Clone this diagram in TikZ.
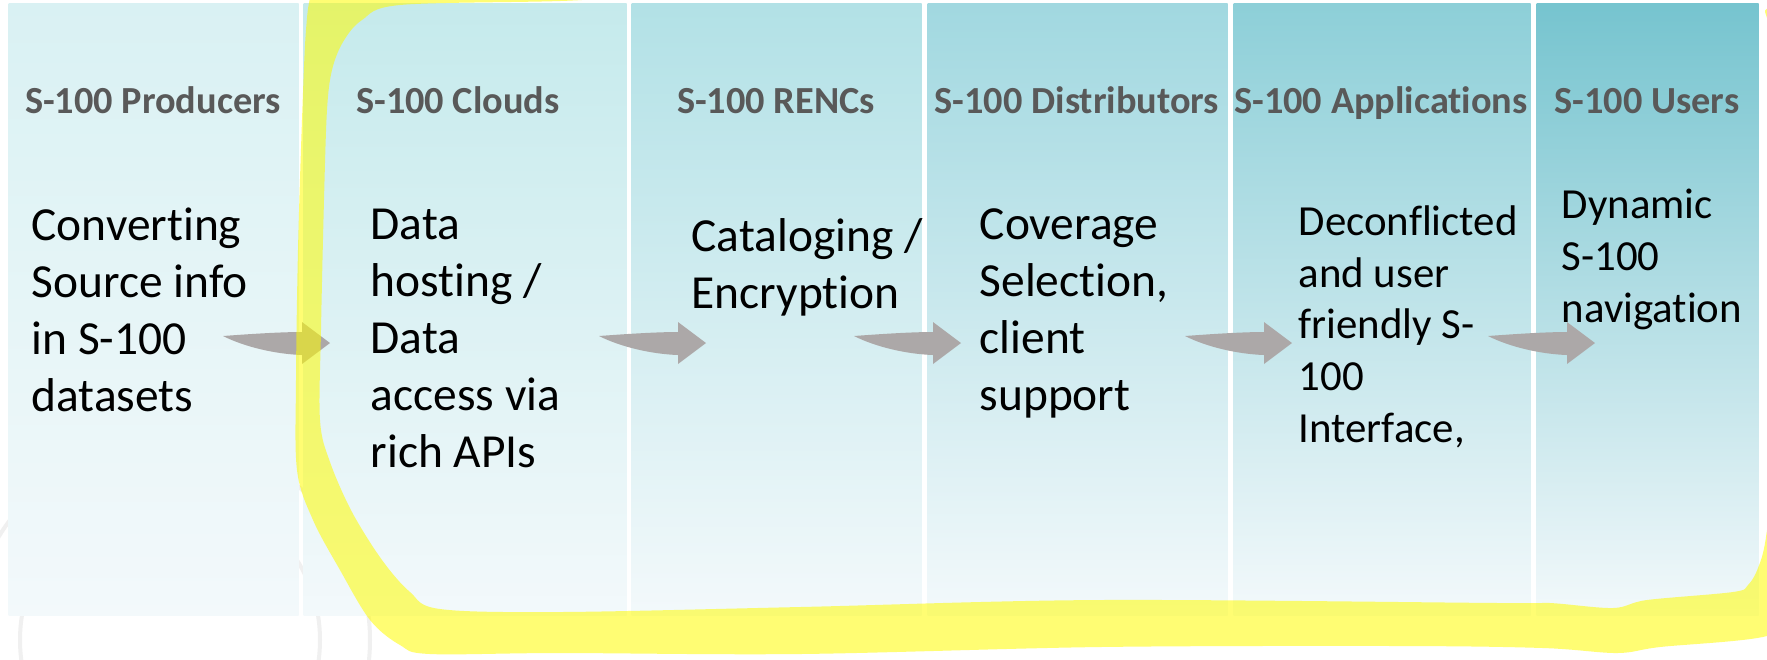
\documentclass[tikz,border=0pt]{standalone}
\usepackage{fontspec}
\setmainfont{Carlito}[Ligatures=NoCommon]
\definecolor{band1}{HTML}{D9F1F3}
\definecolor{band2}{HTML}{C5EAEC}
\definecolor{band3}{HTML}{B2E1E6}
\definecolor{band4}{HTML}{A1D8E0}
\definecolor{band5}{HTML}{8DCFD8}
\definecolor{band6}{HTML}{76C4CF}
\definecolor{bandlow}{HTML}{F3F9FB}
\definecolor{headgray}{HTML}{595959}
\definecolor{arrowgray}{HTML}{ACA8A8}
\definecolor{marker}{HTML}{FFFC00}
\definecolor{seal}{HTML}{F0F0F0}
\begin{document}
\begin{tikzpicture}[x=0.1mm,y=-0.1mm,
  col/.style={anchor=north west,inner sep=0,minimum height=61.2mm,bottom color=bandlow},
  head/.style={anchor=base,inner sep=0,text=headgray,font=\fontsize{10.9}{13}\selectfont\bfseries},
  body/.style={anchor=base west,align=left,inner sep=0,font=\fontsize{13.5}{16.2}\selectfont},
  small/.style={anchor=base west,align=left,inner sep=0,font=\fontsize{12.2}{14.7}\selectfont},
  flow/.style={fill=arrowgray},
  hilite/.style={fill=marker,fill opacity=0.55,even odd rule}]
\useasboundingbox (0,0) rectangle (1767,659);
\fill[white] (0,0) rectangle (1767,659);
\draw[seal,line width=0.4mm] (170,640) circle[radius=200];
\draw[seal,line width=0.4mm] (170,640) circle[radius=150];

\node[col,top color=band1,minimum width=29mm] (c1) at (8,3) {};
\node[col,top color=band2,minimum width=32.3mm] (c2) at (303,3) {};
\node[col,top color=band3,minimum width=29mm] (c3) at (631,3) {};
\node[col,top color=band4,minimum width=30mm] (c4) at (927,3) {};
\node[col,top color=band5,minimum width=29.7mm] (c5) at (1233,3) {};
\node[col,top color=band6,minimum width=22.2mm] (c6) at (1536,3) {};

\node[head] (h1) at (153,113) {S-100 Producers};
\node[head] (h2) at (458,113) {S-100 Clouds};
\node[head] (h3) at (776,113) {S-100 RENCs};
\node[head] (h4) at (1077,113) {S-100 Distributors};
\node[head] (h5) at (1381,113) {S-100 Applications};
\node[head] (h6) at (1647,113) {S-100 Users};

\coordinate (a1) at (330,343);
\coordinate (a2) at (706,343);
\coordinate (a3) at (961,343);
\coordinate (a4) at (1292,343);
\coordinate (a5) at (1595,343);
\foreach \i in {1,...,5}
  \fill[flow,shift={(a\i)}] (-107,-7) .. controls (-80,-9) and (-50,-11) .. (-28,-11)
    -- (-28,-21) -- (0,0) -- (-28,21) -- (-28,12)
    .. controls (-55,11) and (-85,4) .. (-107,-7) -- cycle;

\node[body] (t1) at (31,411) {Converting\\Source info\\in S-100\\datasets};
\node[body] (t2) at (370,467) {Data\\hosting /\\Data\\access via\\rich APIs};
\node[body] (t3) at (691,308) {Cataloging /\\Encryption};
\node[body] (t4) at (979,410) {Coverage\\Selection,\\client\\support};
\node[small] (t5) at (1298,442) {Deconflicted\\and user\\friendly S-\\100\\Interface,};
\node[small] (t6) at (1561,322) {Dynamic\\S-100\\navigation};

\fill[hilite] plot[smooth cycle,tension=0.55] coordinates {(330,-35) (312,-8) (306,30) (302,120) (298,250) (296,380) (297,470) (313,520) (340,570) (370,620) (400,645) (430,654) (560,653) (800,654) (1100,647) (1400,646) (1543,648) (1617,653) (1660,647) (1767,636) (1800,610) (1810,300) (1800,-30) (1000,-40)}
  plot[smooth cycle,tension=0.55] coordinates {(560,1) (400,5) (362,20) (343,42) (332,70) (327,110) (324,200) (321,330) (320,420) (330,462) (352,512) (382,560) (410,592) (440,609) (560,612) (800,607) (1100,600) (1500,603) (1550,603) (1613,608) (1647,600) (1733,592) (1748,585) (1758,568) (1766,537) (1775,450) (1778,250) (1772,60) (1765,12) (1750,-4) (1200,-8) (700,-5)};
\end{tikzpicture}
\end{document}
